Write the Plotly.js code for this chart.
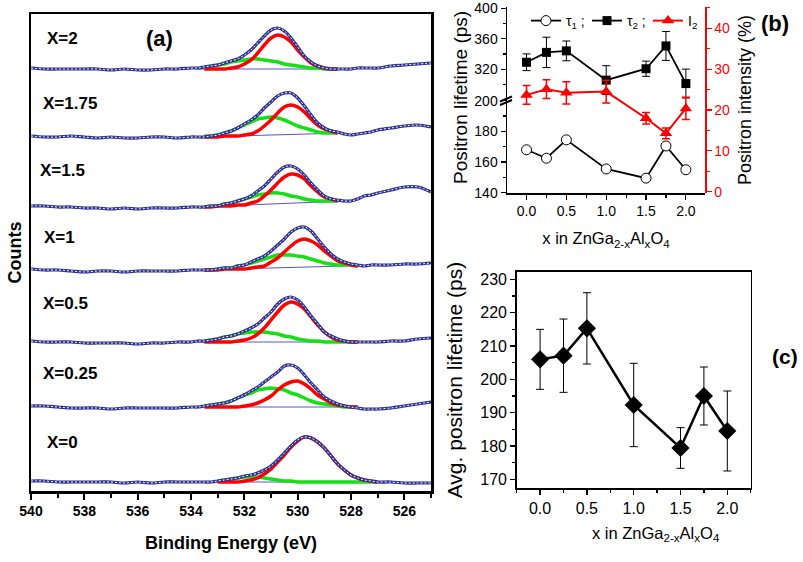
<!DOCTYPE html>
<html>
<head>
<meta charset="utf-8">
<script src="https://cdn.plot.ly/plotly-3.0.1.min.js"></script>
<style>
html,body{margin:0;padding:0;background:#fff;}
#chart{width:803px;height:562px;}
</style>
</head>
<body>
<div id="chart"></div>
<script>
// ================= Panel (a): O 1s XPS spectra, stacked =================
const sampleLabels = ['X=0', 'X=0.25', 'X=0.5', 'X=1', 'X=1.5', 'X=1.75', 'X=2'];
const stackOffset = [9, 84, 149, 221, 284, 354, 422];

const energyTicks = [540, 538, 536, 534, 532, 530, 528, 526];
const energyTickText = ['540', '538', '536', '534', '532', '530', '528', '526'];

const energyData = [540, 539.5, 539, 538.5, 538, 537.5, 537, 536.5, 536, 535.5, 535, 534.5, 534,
  533.75, 533.5, 533.25, 533, 532.75, 532.5, 532.25, 532, 531.75, 531.5, 531.25, 531, 530.75,
  530.5, 530.25, 530, 529.75, 529.5, 529.25, 529, 528.75, 528.5, 528.25, 528, 527.75, 527.5,
  527.25, 527, 526.5, 526, 525.5, 525];

const energyFit = [533.5, 533.25, 533, 532.75, 532.5, 532.25, 532, 531.75, 531.5, 531.25, 531,
  530.75, 530.5, 530.25, 530, 529.75, 529.5, 529.25, 529, 528.75, 528.5, 528.25, 528, 527.75,
  527.5, 527.25, 527];

const backgroundEnergy = [533.75, 528.25];
const backgroundRise = [0, 0, 0, 4, 6, 4, 0];

// measured spectra (open circles)
const counts_x0   = [1,1,0,0,0,0,0,-1,0,-1,0,0,0, 0, 0,0,1,2,3,4,6,7,9,12,16,22,29,36,42,45,44,40,34,26,18,12,7,4,2,1,0, 0,-1,-1,-1];
const counts_x025 = [1,1,0,-1,-1,-1,-2,-1,-1,-1,-1,-1,0, 0, 1,2,3,4,6,9,12,16,20,25,30,35,41,42,39,32,24,17,10,6,3,1,0,-1,-2,-2,-2, -1,1,3,5];
const counts_x05  = [1,0,0,0,-1,-1,-1,-1,-2,-1,-1,0,0, 1, 1,2,3,5,6,8,11,14,18,24,30,38,43,45,42,35,26,18,10,6,3,1,0,0,0,0,0, 1,1,3,4];
const counts_x1   = [1,0,0,-1,-2,-1,-1,-2,-1,-1,-1,-1,0, 0, 0,0,1,2,2,4,5,8,11,14,19,25,31,38,42,43,39,31,23,16,11,8,6,5,4,5,5, 5,6,6,7];
const counts_x15  = [1,1,0,0,-1,-1,-2,-1,-2,-1,-1,-1,0, 0, 0,1,1,3,4,6,8,11,16,21,28,35,40,41,38,32,24,17,11,8,7,6,6,8,11,12,14, 17,20,20,15];
const counts_x175 = [1,0,0,1,0,-1,0,-1,-1,0,0,-1,0, 0, 0,1,2,4,6,9,13,17,22,29,35,41,44,44,39,31,22,14,9,6,5,3,2,3,4,5,7, 9,11,12,10];
const counts_x2   = [1,0,0,0,0,0,-1,0,-1,-1,0,0,1, 1, 2,3,4,6,8,10,14,19,26,33,39,41,38,31,22,13,7,3,1,0,0,0,0,1,1,1,1, 3,4,5,6];

// fitted components (red: main peak, green: second peak)
const red_x0   = [null,null,0,0,0,0,1,2,4,8,13,20,27,35,41,45,44,40,34,26,18,12,7,4,2,1,0];
const green_x0 = [null,null,1,2,3,4,5,5,5,4,3,2,1,1,0,0,0,0,0,0,0,0,0,0,0,0,0];
const red_x025   = [0,0,0,0,0,0,1,2,4,7,11,17,22,25,26,23,18,12,8,4,2,1,0,0,null,null,null];
const green_x025 = [1,2,3,4,6,9,12,14,17,18,19,18,17,14,12,9,6,4,3,2,1,0,0,0,null,null,null];
const red_x05   = [0,0,0,0,0,1,2,4,8,14,22,30,37,40,38,33,25,17,10,5,2,1,0,0,null,null,null];
const green_x05 = [1,2,3,5,6,8,9,10,10,10,9,8,6,5,3,2,1,1,0,0,0,0,0,0,null,null,null];
const red_x1   = [0,0,0,1,1,1,1,2,3,4,8,12,18,24,29,31,29,25,19,14,9,7,5,4,null,null,null];
const green_x1 = [0,0,1,2,2,4,5,7,9,11,13,15,15,15,14,13,11,9,7,6,5,5,5,4,null,null,null];
const red_x15   = [0,0,1,1,1,2,2,4,6,11,17,24,30,33,32,28,21,15,10,8,6,null,null,null,null,null,null];
const green_x15 = [0,1,1,3,4,6,8,10,12,13,14,14,13,11,10,8,7,6,6,6,6,null,null,null,null,null,null];
const red_x175   = [0,0,0,1,1,1,2,3,6,11,17,24,30,32,30,25,18,12,8,6,4,null,null,null,null,null,null];
const green_x175 = [1,1,2,4,6,9,12,15,18,19,20,19,17,14,11,9,7,5,4,4,4,null,null,null,null,null,null];
const red_x2   = [0,0,0,0,1,2,5,9,16,24,31,34,32,27,19,12,6,3,1,0,0,null,null,null,null,null,null];
const green_x2 = [2,3,4,5,7,8,9,10,10,9,8,7,5,4,3,2,1,1,0,0,0,null,null,null,null,null,null];

// ================= Panel (b): lifetimes and intensity =================
const xComp = [0, 0.25, 0.5, 1.0, 1.5, 1.75, 2.0];
const xTickVals = [0, 0.5, 1.0, 1.5, 2.0];
const xTickText = ['0.0', '0.5', '1.0', '1.5', '2.0'];
const tau1 = [168, 162.5, 174.5, 155.5, 149.5, 170.5, 155];
const tau2 = [329, 342, 344, 305.5, 320.5, 350.5, 301];
const tau2Err = [11, 20, 13, 19, 10, 19, 19];
const intensityI2 = [23.7, 25.1, 24.2, 24.5, 18.0, 14.3, 20.4];
const intensityI2Err = [2.3, 2.3, 2.7, 2.8, 1.4, 1.3, 2.7];

// ================= Panel (c): average lifetime =================
const avgLifetime = [206.0, 207.1, 215.3, 192.3, 179.4, 195.0, 184.5];
const avgLifetimeErr = [9, 11, 10.7, 12.5, 6.1, 8.7, 12];

// ---------------------------------------------------------------
const FONT = 'Liberation Sans, Arial, Helvetica, sans-serif';
const W = 803, H = 562;
const px = (x) => x / W;
const py = (y) => 1 - y / H;

const countsList = [counts_x0, counts_x025, counts_x05, counts_x1, counts_x15, counts_x175, counts_x2];
const redList = [red_x0, red_x025, red_x05, red_x1, red_x15, red_x175, red_x2];
const greenList = [green_x0, green_x025, green_x05, green_x1, green_x15, green_x175, green_x2];
const shift = (arr, off) => arr.map(v => (v === null ? null : v + off));

const traces = [];
countsList.forEach((c, i) => {
  const off = stackOffset[i];
  traces.push({type: 'scatter', mode: 'lines', x: backgroundEnergy, y: [off, off + backgroundRise[i]],
    xaxis: 'x', yaxis: 'y', line: {color: '#5656cc', width: 1}, showlegend: false, hoverinfo: 'skip'});
  traces.push({type: 'scatter', mode: 'lines', x: energyFit, y: shift(greenList[i], off),
    xaxis: 'x', yaxis: 'y', line: {color: '#14e014', width: 3.5, shape: 'spline'}, showlegend: false, hoverinfo: 'skip'});
  traces.push({type: 'scatter', mode: 'lines', x: energyFit, y: shift(redList[i], off),
    xaxis: 'x', yaxis: 'y', line: {color: '#ff0000', width: 3.5, shape: 'spline'}, showlegend: false, hoverinfo: 'skip'});
  traces.push({type: 'scatter', mode: 'lines', x: energyData, y: shift(c, off), name: sampleLabels[i],
    xaxis: 'x', yaxis: 'y', line: {color: '#2e3192', width: 3.2, shape: 'spline'}, showlegend: false, hoverinfo: 'skip'});
  traces.push({type: 'scatter', mode: 'lines', x: energyData, y: shift(c, off),
    xaxis: 'x', yaxis: 'y', line: {color: '#ffffff', width: 1, dash: '2px,2px', shape: 'spline'}, showlegend: false, hoverinfo: 'skip'});
});

// panel (b)
traces.push({type: 'scatter', mode: 'lines+markers', x: xComp, y: tau1, xaxis: 'x2', yaxis: 'y3',
  name: 'τ<sub>1</sub> ;', line: {color: '#000', width: 1.8},
  marker: {symbol: 'circle', size: 10, color: '#fff', line: {color: '#000', width: 1}}});
traces.push({type: 'scatter', mode: 'lines+markers', x: xComp, y: tau2, xaxis: 'x2', yaxis: 'y2',
  name: 'τ<sub>2</sub> ;', line: {color: '#000', width: 1.8},
  error_y: {type: 'data', array: tau2Err, visible: true, color: '#000', thickness: 1, width: 4},
  marker: {symbol: 'square', size: 9, color: '#000'}});
traces.push({type: 'scatter', mode: 'lines+markers', x: xComp, y: intensityI2, xaxis: 'x2', yaxis: 'y4',
  name: 'I<sub>2</sub>', line: {color: '#ff0000', width: 2},
  error_y: {type: 'data', array: intensityI2Err, visible: true, color: '#ff0000', thickness: 1.5, width: 4},
  marker: {symbol: 'triangle-up', size: 11, color: '#ff0000'}});

// panel (c)
traces.push({type: 'scatter', mode: 'lines+markers', x: xComp, y: avgLifetime, xaxis: 'x3', yaxis: 'y5',
  showlegend: false, line: {color: '#000', width: 2.5},
  error_y: {type: 'data', array: avgLifetimeErr, visible: true, color: '#000', thickness: 1, width: 4},
  marker: {symbol: 'diamond', size: 14, color: '#000'}});

const blk = '#000';
const baseAxis = {showgrid: false, zeroline: false, automargin: false, color: blk,
  linecolor: blk, tickcolor: blk, showline: true};

const layout = {
  width: W, height: H,
  margin: {l: 0, r: 0, t: 0, b: 0, pad: 0},
  paper_bgcolor: '#fff', plot_bgcolor: 'rgba(0,0,0,0)',
  font: {family: FONT, color: blk},
  showlegend: true,
  hovermode: false,
  legend: {orientation: 'h', x: px(526), y: py(5), xanchor: 'left', yanchor: 'top',
    bgcolor: 'rgba(0,0,0,0)', borderwidth: 0, entrywidth: 16, itemwidth: 30,
    font: {family: FONT, size: 14, color: blk}},

  // ---- (a)
  xaxis: Object.assign({}, baseAxis, {
    domain: [px(31), px(431)], range: [540, 525], anchor: 'y',
    tickmode: 'array', tickvals: energyTicks, ticktext: energyTickText,
    ticks: 'outside', ticklen: 6, tickwidth: 2,
    minor: {tickmode: 'linear', tick0: 540, dtick: 1, ticks: 'outside', ticklen: 4, tickwidth: 2, tickcolor: blk},
    linewidth: 2.5, mirror: true,
    tickfont: {family: FONT, size: 14, color: blk, weight: 'bold'},
    title: {text: 'Binding Energy (eV)', standoff: 18, font: {family: FONT, size: 18, color: blk, weight: 'bold'}}
  }),
  yaxis: Object.assign({}, baseAxis, {
    domain: [py(491), py(14)], range: [0, 477], anchor: 'x',
    showticklabels: false, ticks: '', linewidth: 2.5, mirror: true,
    title: {text: 'Counts', standoff: 2, font: {family: FONT, size: 18, color: blk, weight: 'bold'}}
  }),

  // ---- (b)
  xaxis2: Object.assign({}, baseAxis, {
    domain: [px(507), px(705)], range: [-0.245, 2.24], anchor: 'y3',
    tickmode: 'array', tickvals: xTickVals, ticktext: xTickText,
    ticks: 'outside', ticklen: 5, tickwidth: 1.2,
    minor: {tickmode: 'linear', tick0: 0, dtick: 0.25, ticks: 'outside', ticklen: 3, tickwidth: 1.2, tickcolor: blk},
    linewidth: 1.5, tickfont: {family: FONT, size: 14, color: blk},
    title: {text: 'x in ZnGa<sub>2-x</sub>Al<sub>x</sub>O<sub>4</sub>', standoff: 14, font: {family: FONT, size: 16.5, color: blk}}
  }),
  yaxis2: Object.assign({}, baseAxis, {
    domain: [py(99), py(7)], range: [280.7, 401.7], anchor: 'x2',
    tickmode: 'linear', tick0: 0, dtick: 40, ticks: 'outside', ticklen: 5, tickwidth: 1.2,
    minor: {tickmode: 'linear', tick0: 0, dtick: 20, ticks: 'outside', ticklen: 3, tickwidth: 1.2, tickcolor: blk},
    linewidth: 1.5, tickfont: {family: FONT, size: 14, color: blk}
  }),
  yaxis3: Object.assign({}, baseAxis, {
    domain: [py(193), py(100)], range: [139.8, 200.5], anchor: 'x2',
    tickmode: 'linear', tick0: 0, dtick: 20, ticks: 'outside', ticklen: 5, tickwidth: 1.2,
    minor: {tickmode: 'linear', tick0: 0, dtick: 10, ticks: 'outside', ticklen: 3, tickwidth: 1.2, tickcolor: blk},
    linewidth: 1.5, tickfont: {family: FONT, size: 14, color: blk}
  }),
  yaxis4: Object.assign({}, baseAxis, {
    domain: [py(193), py(7)], range: [-0.3, 45.2], anchor: 'x2', side: 'right',
    linecolor: '#ff0000', tickcolor: '#ff0000', color: '#ff0000',
    tickmode: 'linear', tick0: 0, dtick: 10, ticks: 'outside', ticklen: 5, tickwidth: 1.2,
    minor: {tickmode: 'linear', tick0: 0, dtick: 5, ticks: 'outside', ticklen: 3, tickwidth: 1.2, tickcolor: '#ff0000'},
    linewidth: 1.5, tickfont: {family: FONT, size: 14, color: '#ff0000'},
    title: {text: 'Positron intensity (%)', standoff: 9, font: {family: FONT, size: 18, color: blk}}
  }),

  // ---- (c)
  xaxis3: Object.assign({}, baseAxis, {
    domain: [px(516.7), px(750.7)], range: [-0.25, 2.25], anchor: 'y5',
    tickmode: 'array', tickvals: xTickVals, ticktext: xTickText,
    ticks: 'outside', ticklen: 5, tickwidth: 1.2,
    minor: {tickmode: 'linear', tick0: 0, dtick: 0.25, ticks: 'outside', ticklen: 3, tickwidth: 1.2, tickcolor: blk},
    linewidth: 1.5, mirror: true, tickfont: {family: FONT, size: 16, color: blk}
  }),
  yaxis5: Object.assign({}, baseAxis, {
    domain: [py(488.3), py(271.7)], range: [167.3, 232.3], anchor: 'x3',
    tickmode: 'linear', tick0: 0, dtick: 10, ticks: 'outside', ticklen: 5, tickwidth: 1.2,
    minor: {tickmode: 'linear', tick0: 0, dtick: 5, ticks: 'outside', ticklen: 3, tickwidth: 1.2, tickcolor: blk},
    linewidth: 1.5, mirror: true, tickfont: {family: FONT, size: 16, color: blk},
    title: {text: 'Avg. positron lifetime (ps)', standoff: 12, font: {family: FONT, size: 21, color: blk}}
  }),

  shapes: [
    {type: 'line', xref: 'paper', yref: 'paper', x0: px(500), y0: py(101.5), x1: px(512), y1: py(96.5), line: {color: blk, width: 2}},
    {type: 'line', xref: 'paper', yref: 'paper', x0: px(500), y0: py(105), x1: px(512), y1: py(100), line: {color: blk, width: 2}}
  ],

  annotations: [
    {text: '<b>(a)</b>', x: px(159), y: py(38), xref: 'paper', yref: 'paper', showarrow: false, xanchor: 'center', yanchor: 'middle', font: {family: FONT, size: 22, color: blk}},
    {text: '<b>(b)</b>', x: px(775), y: py(23), xref: 'paper', yref: 'paper', showarrow: false, xanchor: 'center', yanchor: 'middle', font: {family: FONT, size: 22, color: blk}},
    {text: '<b>(c)</b>', x: px(785), y: py(356), xref: 'paper', yref: 'paper', showarrow: false, xanchor: 'center', yanchor: 'middle', font: {family: FONT, size: 21, color: blk}},
    {text: 'Positron lifetime (ps)', x: px(461), y: py(97), xref: 'paper', yref: 'paper', showarrow: false, textangle: -90, xanchor: 'center', yanchor: 'middle', font: {family: FONT, size: 19, color: blk}},
    {text: 'x in ZnGa<sub>2-x</sub>Al<sub>x</sub>O<sub>4</sub>', x: px(656), y: py(534), xref: 'paper', yref: 'paper', showarrow: false, xanchor: 'center', yanchor: 'middle', font: {family: FONT, size: 16.5, color: blk}}
  ]
};

const labelPos = [[45, 442], [41, 373], [41, 303], [42, 237], [38, 170], [41, 103], [45, 38]];
sampleLabels.forEach((s, i) => {
  layout.annotations.push({text: '<b>' + s + '</b>', x: px(labelPos[i][0]), y: py(labelPos[i][1]),
    xref: 'paper', yref: 'paper', showarrow: false, xanchor: 'left', yanchor: 'middle',
    font: {family: FONT, size: 17, color: blk}});
});

Plotly.newPlot('chart', traces, layout, {staticPlot: true, displayModeBar: false});
</script>
</body>
</html>
